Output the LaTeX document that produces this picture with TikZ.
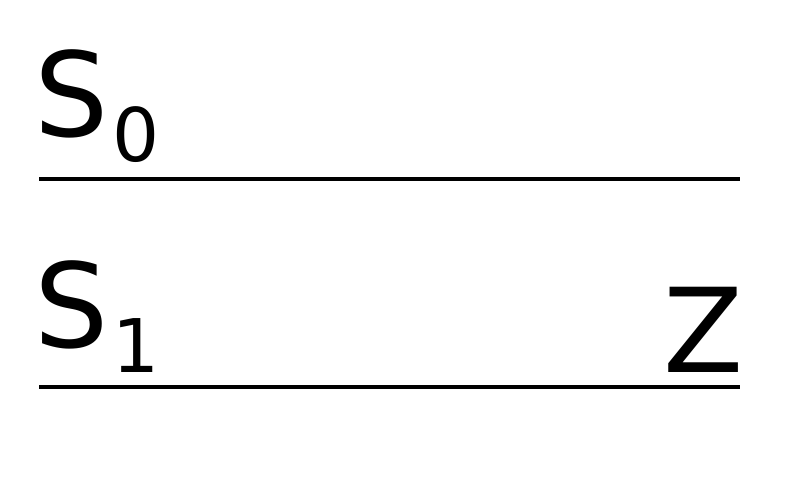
\documentclass[tikz,border=0pt]{standalone}
\usepackage{fontspec}
\setmainfont{DejaVu Sans}
\tikzset{
  big/.style={inner sep=0pt, font=\fontsize{117}{140}\selectfont},
  small/.style={inner sep=0pt, font=\fontsize{74}{89}\selectfont},
  rule/.style={line width=3.2pt}
}
\begin{document}
\begin{tikzpicture}[x=1pt,y=1pt]
    \useasboundingbox (0,0) rectangle (800,493);
    \node[big, anchor=base west] (s0) at (34,356) {S};
    \node[small, anchor=base west] (s0sub) at ([xshift=4pt,yshift=-25pt]s0.base east) {0};
    \coordinate (a0) at (39,314);
    \coordinate (b0) at (740,314);
    \draw[rule] (a0) -- (b0);
    \node[big, anchor=base west] (s1) at (34,146) {S};
    \node[small, anchor=base west] (s1sub) at ([xshift=4pt,yshift=-25pt]s1.base east) {1};
    \node[big, anchor=base east] (z) at (744,121) {Z};
    \coordinate (a1) at (39,106);
    \coordinate (b1) at (740,106);
    \draw[rule] (a1) -- (b1);
\end{tikzpicture}
\end{document}
